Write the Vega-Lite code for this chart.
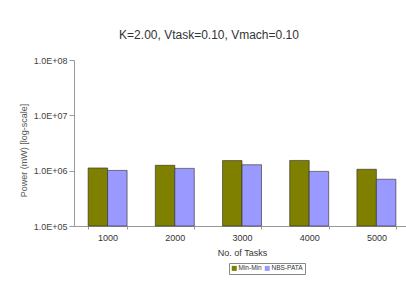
{
  "$schema": "https://vega.github.io/schema/vega-lite/v6.json",
  "autosize": "none",
  "width": 336,
  "height": 166,
  "padding": {"left": 74, "top": 60, "right": -4, "bottom": 58},
  "background": "white",
  "title": {
    "text": "K=2.00, Vtask=0.10, Vmach=0.10",
    "font": "Liberation Sans",
    "fontSize": 12,
    "fontWeight": "normal",
    "color": "#333333",
    "anchor": "middle",
    "dx": -33,
    "offset": 14
  },
  "data": {
    "values": [
      {"tasks": "1000", "alg": "Min-Min", "power": 1120000},
      {"tasks": "1000", "alg": "NBS-PATA", "power": 1010000},
      {"tasks": "2000", "alg": "Min-Min", "power": 1250000},
      {"tasks": "2000", "alg": "NBS-PATA", "power": 1100000},
      {"tasks": "3000", "alg": "Min-Min", "power": 1520000},
      {"tasks": "3000", "alg": "NBS-PATA", "power": 1280000},
      {"tasks": "4000", "alg": "Min-Min", "power": 1530000},
      {"tasks": "4000", "alg": "NBS-PATA", "power": 970000},
      {"tasks": "5000", "alg": "Min-Min", "power": 1060000},
      {"tasks": "5000", "alg": "NBS-PATA", "power": 700000}
    ]
  },
  "mark": {"type": "bar", "stroke": "#2a2a2a", "strokeWidth": 0.6},
  "encoding": {
    "x": {
      "field": "tasks",
      "type": "nominal",
      "sort": null,
      "scale": {"paddingInner": 0.42, "paddingOuter": 0.21},
      "axis": {
        "title": "No. of Tasks",
        "labelAngle": 0,
        "tickBand": "extent",
        "tickSize": 3,
        "labelPadding": 4,
        "labelFont": "Liberation Sans",
        "labelFontSize": 9,
        "labelColor": "#333333",
        "titleFont": "Liberation Sans",
        "titleFontSize": 9,
        "titleFontWeight": "normal",
        "titleColor": "#333333",
        "titlePadding": 6,
        "domainColor": "#999999",
        "tickColor": "#999999"
      }
    },
    "xOffset": {"field": "alg", "type": "nominal", "scale": {"paddingInner": 0, "paddingOuter": 0}},
    "y": {
      "field": "power",
      "type": "quantitative",
      "scale": {"type": "log", "domain": [100000, 100000000]},
      "axis": {
        "title": "Power (mW)  [log-scale]",
        "values": [100000, 1000000, 10000000, 100000000],
        "labelExpr": "'1.0E+0' + round(log(datum.value) / LN10)",
        "grid": false,
        "tickSize": 5,
        "labelPadding": 2,
        "labelFont": "Liberation Sans",
        "labelFontSize": 9,
        "labelColor": "#444444",
        "titleFont": "Liberation Sans",
        "titleFontSize": 9,
        "titleFontWeight": "normal",
        "titleColor": "#555555",
        "titlePadding": 5,
        "titleY": 90,
        "domainColor": "#999999",
        "tickColor": "#999999"
      }
    },
    "y2": {"datum": 100000},
    "color": {
      "field": "alg",
      "type": "nominal",
      "scale": {"domain": ["Min-Min", "NBS-PATA"], "range": ["#7f7f00", "#9999ff"]},
      "legend": {
        "title": null,
        "orient": "none",
        "legendX": 155,
        "legendY": 203,
        "direction": "horizontal",
        "symbolType": "square",
        "symbolSize": 25,
        "symbolStrokeWidth": 0,
        "labelFont": "Liberation Sans",
        "labelFontSize": 6.5,
        "labelColor": "#333333",
        "labelOffset": 1,
        "columnPadding": 2,
        "padding": 2,
        "strokeColor": "#888888"
      }
    }
  },
  "config": {"view": {"stroke": null}}
}
